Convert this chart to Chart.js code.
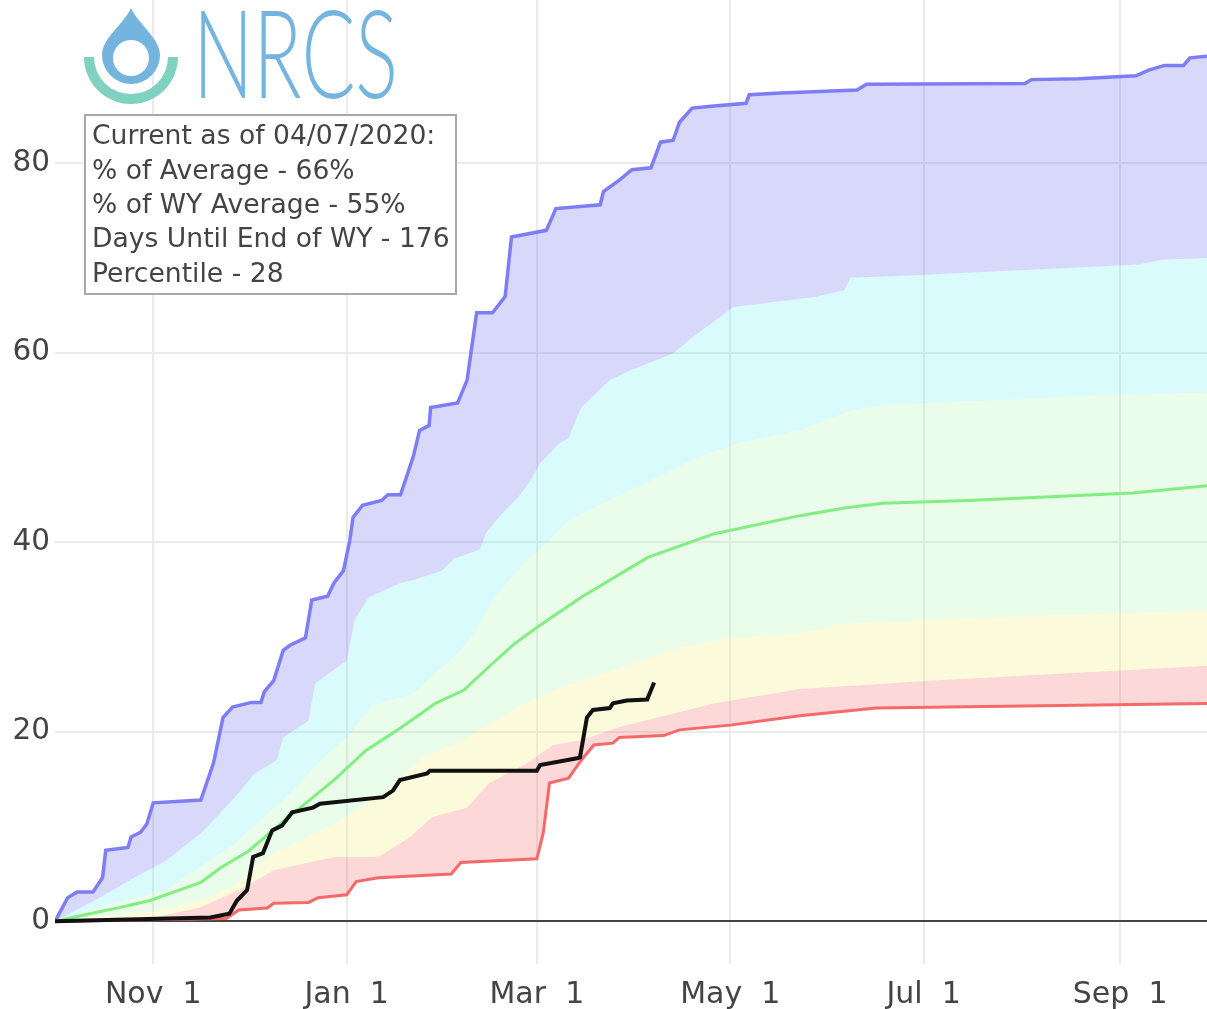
<!DOCTYPE html>
<html><head><meta charset="utf-8">
<script src="https://cdn.jsdelivr.net/npm/chart.js@4.4.0/dist/chart.umd.min.js"></script>
<style>html,body{margin:0;padding:0;background:#fff;overflow:hidden}#wrap{position:relative;width:1207px;height:1009px}</style>
</head><body><div id="wrap"><canvas id="c" width="1207" height="1009"></canvas></div>
<script>
// Day index counted from Oct 1 (start of water year)
const tickDays = [31, 92, 152, 213, 274, 336];
const tickLabels = ['Nov  1', 'Jan  1', 'Mar  1', 'May  1', 'Jul  1', 'Sep  1'];
const yTicks = [0, 20, 40, 60, 80];

const maxSeries = [[0,0],[4,2.5],[7,3.1],[12,3.1],[15,4.6],[16,7.5],[23,7.8],[24,8.9],[27,9.4],[29,10.3],[31,12.5],[46,12.8],[50,16.7],[53,21.5],[56,22.6],[62,23.1],[65,23.1],[66,24.2],[69,25.4],[72,28.6],[74,29.1],[79,29.9],[81,33.9],[86,34.3],[88,35.7],[91,37],[93,40.2],[94,42.6],[97,43.9],[103,44.4],[105,45],[109,45],[113,49],[115,51.8],[118,52.3],[118.5,54.2],[127,54.7],[130,57.1],[133,64.2],[138,64.2],[142,65.9],[144,72.2],[155,72.9],[158,75.2],[172,75.6],[173,77],[178,78.2],[182,79.3],[188,79.5],[191,82.2],[195,82.4],[197,84.3],[201,85.8],[207,86],[218,86.3],[219,87.2],[229,87.4],[253,87.7],[256,88.3],[306,88.4],[308,88.8],[323,88.9],[341,89.2],[345,89.8],[350,90.3],[356,90.3],[358,91.1],[365,91.3]];
const p90Series = [[0,0],[14,2.5],[25,4.6],[35,6.4],[46,9.3],[56,12.8],[63,15.6],[70,17],[72,19.4],[80,21.2],[82,25.1],[92,27.5],[94.5,31.8],[99,34.2],[109,35.7],[113,36],[122,37],[126,38.3],[134,39.2],[136,41],[141,43],[146,44.7],[150,46.5],[153,48.3],[159,50.4],[162,51],[166,54.2],[175,57.1],[182,58.2],[195,59.9],[201,61.6],[214,64.8],[240,65.9],[249,66.6],[251,67.9],[273,68.2],[317,68.9],[342,69.3],[349,69.8],[365,70]];
const p70Series = [[0,0],[14,1.5],[35,3.3],[56,8],[74,13.5],[84,17],[93,19.8],[100,22.8],[113,24],[121,26.5],[127,28.2],[132,30.4],[139,34.2],[144,36.3],[150,38.4],[155,39.9],[162,42.3],[168,43.3],[176,44.6],[188,46.5],[203,49],[216,50.5],[235,51.8],[251,53.9],[261,54.5],[298,55],[330,55.5],[365,55.8]];
const medianSeries = [[0,0],[11,0.8],[21,1.5],[30,2.2],[40,3.4],[46,4.1],[52,5.6],[61,7.4],[73,10.8],[77,11.9],[88,14.9],[98,18],[109,20.4],[120,23],[129,24.4],[138,27.2],[145,29.3],[152,31],[166,34.2],[187,38.4],[208,40.9],[235,42.8],[249,43.6],[261,44.1],[288,44.4],[340,45.2],[365,46]];
const p30Series = [[0,0],[30,1],[46,2.2],[56,3.6],[67,6.8],[88,10.3],[102,13.1],[116,17.3],[129,19.1],[143,22],[150,23.3],[160,24.7],[174,26.2],[182,27.2],[197,28.9],[213,29.9],[235,30.4],[249,31.4],[288,32],[365,32.8]];
const p10Series = [[0,0],[30,0.3],[46,1.5],[58,3.3],[69,5.4],[88,6.8],[102,6.8],[112,8.9],[119,11],[130,12],[137,14.6],[149,16.7],[157,18.6],[166,19.1],[178,20.5],[190,21.5],[208,23],[235,24.5],[277,25.4],[365,27]];
const minSeries = [[0,0],[54,0.3],[58,1.2],[67,1.4],[69,1.9],[80,2.0],[83,2.5],[92,2.8],[95,4.2],[102,4.6],[125,5],[128,6.2],[152,6.6],[154,9.3],[156,14.6],[162,15.1],[166,17],[170,18.6],[176,18.8],[178,19.4],[192,19.6],[197,20.2],[213,20.7],[235,21.7],[259,22.5],[365,23]];
const currentSeries = [[0,0],[49,0.4],[55,0.8],[57.4,2.2],[60.6,3.3],[62.5,6.8],[65.6,7.2],[68.5,9.6],[71.6,10.1],[74.8,11.5],[81.4,12],[83.6,12.4],[103.5,13.1],[106.6,13.8],[108.8,14.9],[117.4,15.6],[118.3,15.9],[152,15.9],[153,16.5],[164.7,17.2],[165.6,17.3],[167.8,21.5],[169.7,22.3],[175,22.5],[176,23],[180.4,23.3],[186.8,23.4],[189,25.2]];

const infoLines = ['Current as of 04/07/2020:', '% of Average - 66%', '% of WY Average - 55%', 'Days Until End of WY - 176', 'Percentile - 28'];
const logoText = 'NRCS';

const toXY = s => s.map(([x, y]) => ({x, y}));
const FONT = '"DejaVu Sans", Verdana, sans-serif';

const overlayPlugin = {
  id: 'overlay',
  afterDraw(chart) {
    const ctx = chart.ctx;
    ctx.save();
    const blue = '#74b4de', teal = '#7fd2c0';
    ctx.fillStyle = teal;
    ctx.beginPath();
    ctx.arc(131, 57, 47, 0, Math.PI, false);
    ctx.arc(131, 57, 37, Math.PI, 0, true);
    ctx.closePath();
    ctx.fill();
    ctx.fillStyle = blue;
    ctx.beginPath();
    ctx.moveTo(131, 8);
    ctx.bezierCurveTo(124, 24, 102, 38, 102, 55);
    ctx.arc(131, 55, 29, Math.PI, 0, true);
    ctx.bezierCurveTo(160, 38, 138, 24, 131, 8);
    ctx.closePath();
    ctx.fill();
    ctx.fillStyle = '#ffffff';
    ctx.beginPath();
    ctx.arc(131, 58, 18, 0, Math.PI * 2);
    ctx.fill();
    ctx.fillStyle = blue;
    ctx.font = '300 122px Lato, "DejaVu Sans", sans-serif';
    ctx.textBaseline = 'alphabetic';
    ctx.textAlign = 'left';
    const w = ctx.measureText(logoText).width;
    ctx.save();
    ctx.translate(193, 98);
    ctx.scale(205 / w, 1);
    ctx.fillText(logoText, 0, 0);
    ctx.restore();
    ctx.fillStyle = '#ffffff';
    ctx.fillRect(84, 114, 373, 181);
    ctx.strokeStyle = '#a8a8a8';
    ctx.lineWidth = 2;
    ctx.strokeRect(85, 115, 371, 179);
    ctx.fillStyle = '#444444';
    ctx.font = '26.6px ' + FONT;
    ctx.textBaseline = 'middle';
    infoLines.forEach((t, i) => ctx.fillText(t, 92, 137.5 + i * 34.3));
    ctx.restore();
  }
};

new Chart(document.getElementById('c'), {
  type: 'line',
  data: {
    datasets: [
      {label: 'WY2020', data: toXY(currentSeries), borderColor: '#111111', borderWidth: 4, fill: false, order: 0},
      {label: 'Max', data: toXY(maxSeries), borderColor: 'rgb(125,125,245)', borderWidth: 3.5, backgroundColor: 'rgba(100,100,240,0.25)', fill: '+1', order: 2},
      {label: '90%', data: toXY(p90Series), borderWidth: 0, borderColor: 'rgba(0,0,0,0)', backgroundColor: 'rgba(95,240,240,0.24)', fill: '+1', order: 3},
      {label: '70%', data: toXY(p70Series), borderWidth: 0, borderColor: 'rgba(0,0,0,0)', backgroundColor: 'rgba(160,240,160,0.22)', fill: '+2', order: 4},
      {label: 'Median', data: toXY(medianSeries), borderColor: 'rgb(130,238,130)', borderWidth: 3, fill: false, order: 1},
      {label: '30%', data: toXY(p30Series), borderWidth: 0, borderColor: 'rgba(0,0,0,0)', backgroundColor: 'rgba(240,240,110,0.25)', fill: '+1', order: 5},
      {label: '10%', data: toXY(p10Series), borderWidth: 0, borderColor: 'rgba(0,0,0,0)', backgroundColor: 'rgba(245,100,100,0.25)', fill: '+1', order: 6},
      {label: 'Min', data: toXY(minSeries), borderColor: 'rgb(245,105,105)', borderWidth: 3, fill: false, order: 1}
    ]
  },
  options: {
    responsive: false,
    animation: false,
    events: [],
    layout: {padding: 0},
    elements: {point: {radius: 0}, line: {tension: 0, capBezierPoints: false}},
    plugins: {legend: {display: false}, tooltip: {enabled: false}, title: {display: false}},
    scales: {
      x: {
        type: 'linear', min: 0, max: 363.4,
        afterBuildTicks: s => { s.ticks = tickDays.map(v => ({value: v})); },
        afterFit: s => { s.height = 45; s.paddingLeft = 0; s.paddingRight = 0; },
        ticks: {
          autoSkip: false, maxRotation: 0, padding: 13,
          color: '#444444', font: {family: FONT, size: 30},
          callback: v => tickLabels[tickDays.indexOf(v)]
        },
        grid: {color: '#ebebeb', lineWidth: 2, drawTicks: false},
        border: {display: false}
      },
      y: {
        min: -4.5, max: 97.2,
        afterBuildTicks: s => { s.ticks = yTicks.map(v => ({value: v})); },
        afterFit: s => { s.width = 55; s.paddingTop = 0; s.paddingBottom = 0; },
        ticks: {padding: 5, color: '#444444', font: {family: FONT, size: 29.5}},
        grid: {color: c => (c.tick && c.tick.value === 0) ? '#444444' : '#ebebeb', lineWidth: 2, drawTicks: false},
        border: {display: false}
      }
    }
  },
  plugins: [overlayPlugin]
});
</script></body></html>
